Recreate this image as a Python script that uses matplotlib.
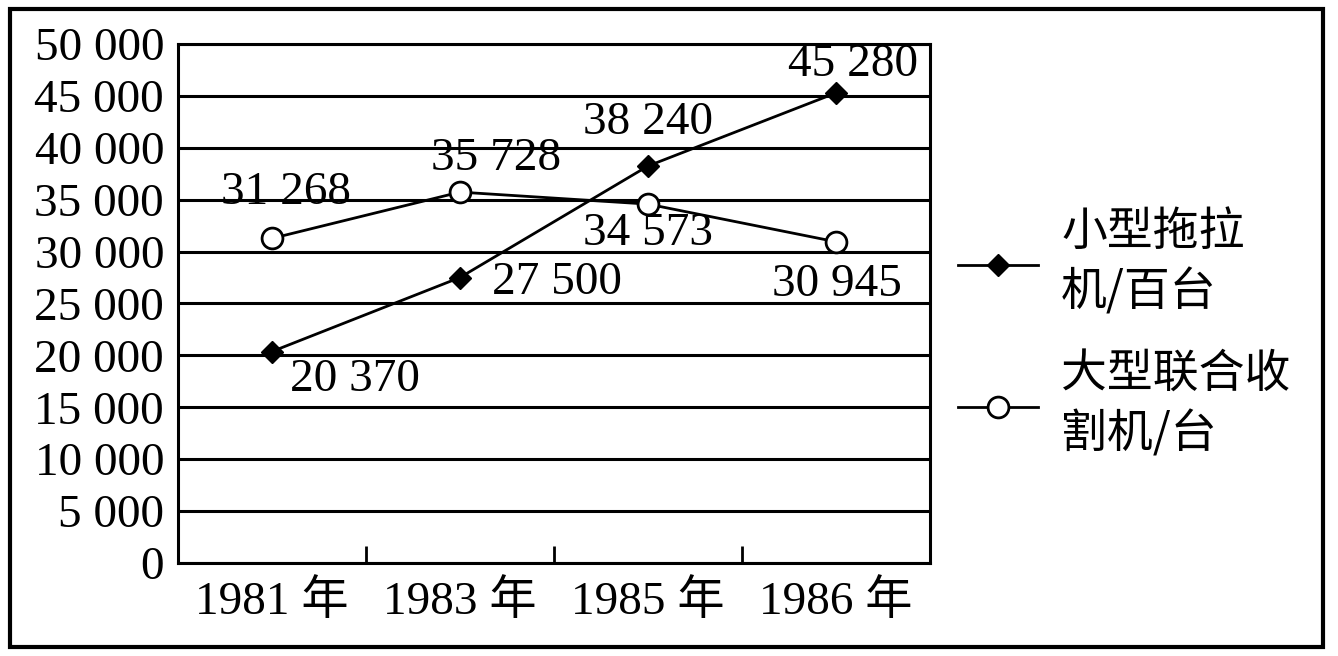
import numpy as np
import matplotlib.pyplot as plt
from matplotlib.patches import Rectangle

plt.rcParams['font.family'] = ['Liberation Serif', 'Noto Sans CJK SC']

years = ['1981 年', '1983 年', '1985 年', '1986 年']
tractors = [20370, 27500, 38240, 45280]     # 小型拖拉机/百台
combines = [31268, 35728, 34573, 30945]     # 大型联合收割机/台
tractor_labels = ['20 370', '27 500', '38 240', '45 280']
combine_labels = ['31 268', '35 728', '34 573', '30 945']
yticks = np.arange(0, 50001, 5000)

x = np.arange(len(years))

fig = plt.figure(figsize=(13.38, 6.56), dpi=100)
ax = fig.add_axes([0.133, 0.1418, 0.562, 0.7912])

# horizontal grid lines
for v in yticks:
    ax.axhline(v, color='black', lw=2.2, zorder=1)

l1, = ax.plot(x, tractors, color='black', lw=2, marker='D', ms=11.5,
              mfc='black', mec='black', zorder=3)
l2, = ax.plot(x, combines, color='black', lw=2, marker='o', ms=15,
              mfc='white', mec='black', mew=2, zorder=3)

# data labels (offsets in points)
t_off = [(60, -20), (70, -4), (0, 31), (12, 20)]
c_off = [(10, 33), (26, 24), (0, -21), (1, -31)]
for i in range(len(x)):
    ax.annotate(tractor_labels[i], (x[i], tractors[i]), xytext=t_off[i],
                textcoords='offset points', ha='center', va='center', fontsize=34, zorder=2)
    ax.annotate(combine_labels[i], (x[i], combines[i]), xytext=c_off[i],
                textcoords='offset points', ha='center', va='center', fontsize=34, zorder=2)

ax.set_xlim(-0.5, 3.5)
ax.set_ylim(0, 50000)
ax.set_yticks(yticks)
ax.set_yticklabels(['0' if v == 0 else f'{v // 1000} 000' for v in yticks], fontsize=34)
ax.tick_params(axis='y', length=0, pad=10)
ax.set_xticks(x)
ax.set_xticklabels(years, fontsize=34)
ax.tick_params(axis='x', which='major', length=0, pad=12)
ax.set_xticks([0.5, 1.5, 2.5], minor=True)
ax.tick_params(axis='x', which='minor', direction='in', length=12, width=2, color='black')

for s in ax.spines.values():
    s.set_linewidth(2.2)
    s.set_color('black')

leg = fig.legend([l1, l2], ['小型拖拉\n机/百台', '大型联合收\n割机/台'],
                 loc='upper left', bbox_to_anchor=(0.716, 0.683), frameon=False,
                 handlelength=1.75, handletextpad=0.5, labelspacing=0.72,
                 borderpad=0, borderaxespad=0,
                 prop={'family': ['Noto Sans CJK SC'], 'size': 33})
for t in leg.get_texts():
    t.set_linespacing(1.32)

fig.patches.append(Rectangle((0.0075, 0.014), 0.981, 0.973, transform=fig.transFigure,
                             fill=False, lw=3, edgecolor='black'))

plt.savefig('out.png', dpi=100)
